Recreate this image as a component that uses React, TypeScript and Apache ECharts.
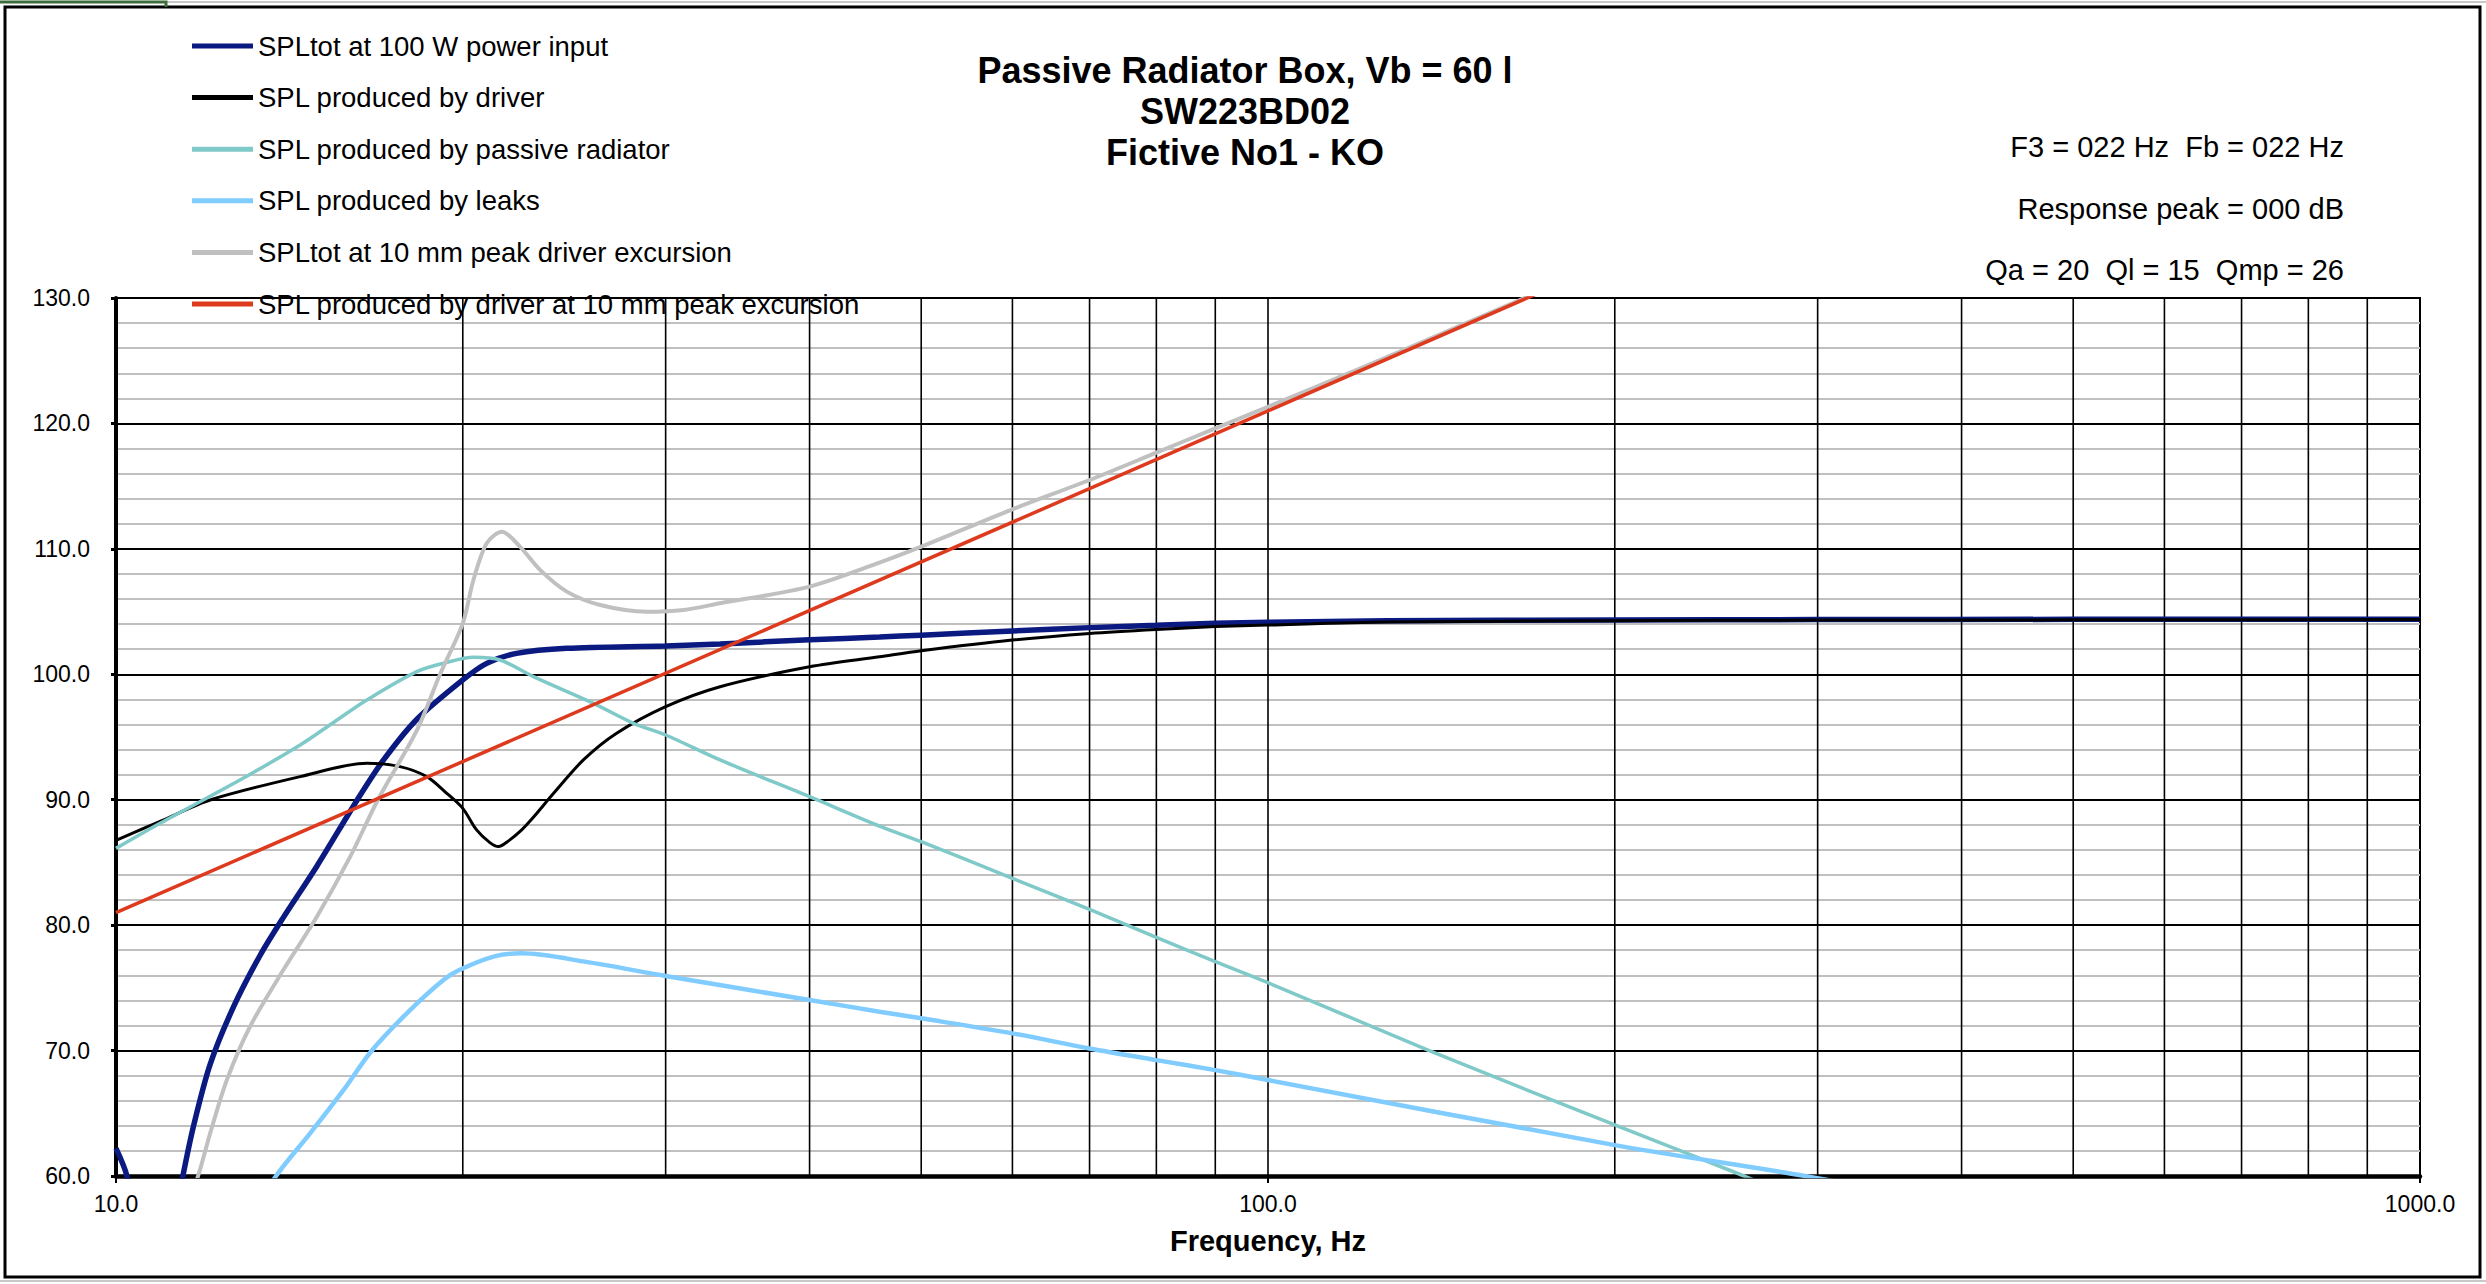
import React, { useEffect, useRef } from "react";
import * as echarts from "echarts";

const FONT = "'Liberation Sans', Arial, Helvetica, sans-serif";

const TITLE_LINES = ["Passive Radiator Box, Vb = 60 l", "SW223BD02", "Fictive No1 - KO"];
const INFO_LINES = ["F3 = 022 Hz  Fb = 022 Hz", "Response peak = 000 dB", "Qa = 20  Ql = 15  Qmp = 26"];
const X_NAME = "Frequency, Hz";

const SERIES_NAMES = [
  "SPLtot at 100 W power input",
  "SPL produced by driver",
  "SPL produced by passive radiator",
  "SPL produced by leaks",
  "SPLtot at 10 mm peak driver excursion",
  "SPL produced by driver at 10 mm peak excursion",
];

// SPLtot at 100 W
const totFreq = [10, 10.22, 10.5, 10.8, 11.1, 11.43, 11.67, 12.07, 12.65, 13.34, 13.97, 14.94, 16.2, 17.07, 18.24, 20, 20.98, 22.27, 24.62, 30, 33.45, 40, 46, 50, 60, 70, 80, 90, 100, 127, 200, 300, 500, 1000];
const totDb = [62.2, 60.0, 54, 50, 54, 60, 63.9, 68.9, 73.5, 77.6, 80.6, 84.7, 90.0, 93.17, 96.4, 99.55, 100.87, 101.67, 102.07, 102.26, 102.42, 102.75, 102.97, 103.12, 103.45, 103.72, 103.9, 104.06, 104.14, 104.27, 104.33, 104.36, 104.38, 104.38];

// SPL by driver
const drvFreq = [10, 11, 12.07, 14.45, 16.51, 17.64, 18.61, 19.37, 20, 20.56, 21.1, 21.48, 21.9, 22.5, 23.03, 23.98, 25.45, 27.2, 30, 33.45, 40, 46, 50, 60, 70, 80, 90, 100, 127, 200, 300, 1000];
const drvDb = [86.75, 88.4, 89.98, 91.84, 92.9, 92.64, 91.84, 90.51, 89.31, 87.59, 86.6, 86.26, 86.7, 87.6, 88.6, 90.51, 93.17, 95.3, 97.42, 99.01, 100.6, 101.4, 101.88, 102.73, 103.26, 103.58, 103.8, 103.93, 104.17, 104.27, 104.32, 104.36];

// SPL by passive radiator
const prFreq = [10, 10.92, 12.81, 14.45, 15.5, 16.51, 18.24, 19.38, 20.43, 21.55, 23.03, 25.97, 28.13, 30, 33.45, 40, 46, 50, 60, 70, 80, 90, 100, 138, 200, 259, 400];
const prDb = [86.12, 88.12, 91.57, 94.36, 96.26, 97.95, 100.21, 100.95, 101.35, 101.14, 99.81, 97.68, 96.09, 95.16, 93.17, 90.24, 87.9, 86.65, 83.73, 81.26, 79.03, 77.09, 75.41, 70.0, 64.07, 60.0, 53.0];

// SPL by leaks
const leakFreq = [12.5, 13.79, 14.74, 15.76, 16.67, 18.0, 19.24, 19.86, 21.27, 22.5, 25.53, 30, 40, 46, 50, 60, 70, 80, 90, 100, 200, 292.5, 400];
const leakDb = [54, 60.08, 63.4, 66.86, 69.99, 73.23, 75.63, 76.42, 77.49, 77.75, 77.09, 75.95, 74.03, 73.1, 72.57, 71.37, 70.17, 69.24, 68.44, 67.65, 62.46, 60, 57.7];

// SPLtot at 10 mm excursion
const xmaxFreq = [11, 11.79, 12.07, 12.48, 13.07, 13.97, 14.94, 15.97, 16.88, 18.24, 19.11, 20, 20.43, 20.98, 21.62, 22.42, 23.34, 24.62, 26.32, 28.89, 31.08, 33.45, 40, 46, 50, 60, 70, 80, 90, 100, 120, 150, 200];
const xmaxDb = [52, 60.08, 63.4, 67.65, 71.9, 76.42, 80.67, 85.46, 90.0, 95.5, 100.0, 104.06, 107.52, 110.44, 111.37, 110.18, 108.32, 106.59, 105.52, 104.99, 105.13, 105.66, 106.99, 108.9, 110.17, 113.15, 115.49, 117.67, 119.61, 121.33, 124.35, 128.15, 133.1];

// SPL by driver at 10 mm excursion
const xdrvFreq = [10, 100, 1000];
const xdrvDb = [81, 121, 161];

// vertical log grid lines
const GRID_FREQS = [20, 30, 40, 50, 60, 70, 80, 90, 100, 200, 300, 400, 500, 600, 700, 800, 900];

const Y_MIN = 60;
const Y_MAX = 130;

const COLORS = ["#0b1a80", "#000000", "#7fc9c8", "#80ccff", "#c0c0c0", "#dd3a1e"];
const WIDTHS = [5.5, 3, 3.5, 4.5, 4, 3.5];

const zip = (xs: number[], ys: number[]) => xs.map((x, i) => [x, ys[i]]);

export default function App() {
  const ref = useRef<HTMLDivElement>(null);
  useEffect(() => {
    document.body.style.margin = "0";
    document.body.style.overflow = "hidden";
    const chart = echarts.init(ref.current!, null, { renderer: "svg" });
    const datasets = [
      zip(totFreq, totDb),
      zip(drvFreq, drvDb),
      zip(prFreq, prDb),
      zip(leakFreq, leakDb),
      zip(xmaxFreq, xmaxDb),
      zip(xdrvFreq, xdrvDb),
    ];
    const lineSeries = SERIES_NAMES.map((name, i) => ({
      name,
      type: "line",
      data: datasets[i],
      color: COLORS[i],
      showSymbol: false,
      symbol: "none",
      smooth: 0.3,
      clip: true,
      z: 3,
      lineStyle: { color: COLORS[i], width: WIDTHS[i] },
    }));
    chart.setOption({
      animation: false,
      backgroundColor: "#ffffff",
      textStyle: { fontFamily: FONT },
      grid: {
        left: 116,
        right: 66,
        top: 298,
        bottom: 108,
        show: true,
        borderColor: "#000",
        borderWidth: 2,
        backgroundColor: "transparent",
      },
      legend: {
        orient: "vertical",
        left: 187,
        top: 26,
        itemWidth: 61,
        itemHeight: 5,
        itemGap: 21.6,
        icon: "rect",
        selectedMode: false,
        data: SERIES_NAMES,
        textStyle: { fontSize: 27.5, color: "#000", fontFamily: FONT, lineHeight: 30 },
      },
      xAxis: {
        type: "log",
        logBase: 10,
        min: 10,
        max: 1000,
        name: X_NAME,
        nameLocation: "middle",
        nameGap: 50,
        nameTextStyle: { fontSize: 29, fontWeight: "bold", color: "#000", fontFamily: FONT },
        axisLine: { show: true, lineStyle: { color: "#000", width: 4.5 } },
        axisTick: { show: true, length: 7, lineStyle: { color: "#000", width: 2 } },
        axisLabel: {
          show: true,
          margin: 16,
          fontSize: 23,
          color: "#000",
          fontFamily: FONT,
          formatter: (v: number) => v.toFixed(1),
        },
        splitLine: { show: false },
      },
      yAxis: {
        type: "value",
        min: Y_MIN,
        max: Y_MAX,
        interval: 10,
        axisLine: { show: true, lineStyle: { color: "#000", width: 4 } },
        axisTick: { show: true, length: 5, lineStyle: { color: "#000", width: 3 } },
        axisLabel: {
          margin: 26,
          fontSize: 23,
          color: "#000",
          fontFamily: FONT,
          formatter: (v: number) => v.toFixed(1),
        },
        splitLine: { show: true, lineStyle: { color: "#000", width: 2 } },
        minorTick: { show: false, splitNumber: 5 },
        minorSplitLine: { show: true, lineStyle: { color: "#c0c0c0", width: 2 } },
      },
      graphic: [
        {
          type: "rect",
          shape: { x: 5, y: 7, width: 2475, height: 1270 },
          style: { fill: "none", stroke: "#000", lineWidth: 3 },
          silent: true,
        },
        {
          type: "line",
          shape: { x1: 0, y1: 2, x2: 2486, y2: 2 },
          style: { stroke: "#c8c8c8", lineWidth: 2 },
          silent: true,
        },
        {
          type: "line",
          shape: { x1: 0, y1: 1281, x2: 2486, y2: 1281 },
          style: { stroke: "#c8c8c8", lineWidth: 2 },
          silent: true,
        },
        {
          type: "polyline",
          shape: { points: [[0, 2], [166, 2], [166, 7]] },
          style: { stroke: "#3c6e3c", lineWidth: 3, fill: "none" },
          silent: true,
        },
        ...TITLE_LINES.map((t, i) => ({
          type: "text",
          silent: true,
          style: {
            text: t,
            x: 1245,
            y: 70 + i * 41,
            align: "center",
            verticalAlign: "middle",
            fontSize: 36,
            fontWeight: "bold",
            fontFamily: FONT,
            fill: "#000",
          },
        })),
        ...INFO_LINES.map((t, i) => ({
          type: "text",
          silent: true,
          style: {
            text: t,
            x: 2344,
            y: 147 + i * 61.5,
            align: "right",
            verticalAlign: "middle",
            fontSize: 29,
            fontFamily: FONT,
            fill: "#000",
          },
        })),
      ],
      series: [
        {
          name: "grid-v",
          type: "custom",
          silent: true,
          z: 1,
          data: GRID_FREQS.map((f) => [f, Y_MIN]),
          renderItem: (params: any, api: any) => {
            const f = api.value(0);
            const p1 = api.coord([f, Y_MAX]);
            const p2 = api.coord([f, Y_MIN]);
            return {
              type: "line",
              shape: { x1: p1[0], y1: p1[1], x2: p2[0], y2: p2[1] },
              style: { stroke: "#000", lineWidth: 1.6 },
            };
          },
        },
        ...lineSeries,
      ],
    } as any);
    return () => chart.dispose();
  }, []);
  return (
    <div
      ref={ref}
      style={{ position: "absolute", left: 0, top: 0, width: 2486, height: 1284, background: "#fff" }}
    />
  );
}
